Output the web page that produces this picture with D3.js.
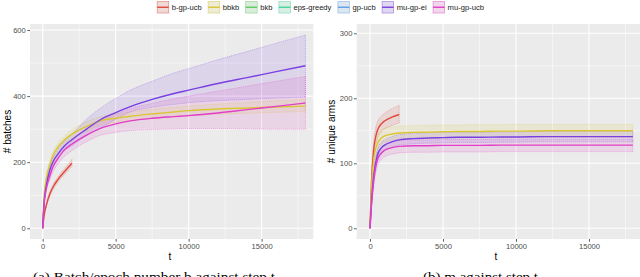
<!DOCTYPE html>
<html>
<head>
<meta charset="utf-8"/>
<title>batches and unique arms</title>
<script src="https://cdn.jsdelivr.net/npm/d3@7"></script>
<style>
html, body { margin: 0; padding: 0; background: #fff; }
svg { display: block; font-family: "Liberation Sans", Arial, sans-serif; }
</style>
</head>
<body>
<svg id="chart" width="640" height="277"></svg>
<script>

// Series in legend order.
var seriesNames = ["b-gp-ucb", "bbkb", "bkb", "eps-greedy", "gp-ucb", "mu-gp-ei", "mu-gp-ucb"];
var seriesColors = ["#e0483c", "#d9c634", "#5ccc5c", "#44d49c", "#5e9ee6", "#7a3fe2", "#e23ec8"];

// Step grids.
var tFull = [0, 100, 250, 500, 750, 1000, 1500, 2000, 3000, 4000, 5000, 6000, 7500, 9000, 10000, 12000, 14000, 16000, 18000];
var tShort = [0, 100, 250, 500, 750, 1000, 1500, 2000];

// (a) number of batches
var bgpucbBatchMean = [0, 40, 70, 105, 128, 145, 172, 197];
var bgpucbBatchLo   = [0, 37, 65, 98, 120, 137, 163, 187];
var bgpucbBatchHi   = [0, 43, 75, 112, 136, 153, 181, 208];

var bbkbBatchMean = [0, 95, 150, 195, 225, 243, 268, 285, 308, 326, 333, 339, 346, 352, 356, 361, 364, 367, 370];
var bbkbBatchLo   = [0, 88, 140, 185, 214, 232, 257, 272, 294, 313, 320, 326, 332, 338, 341, 345, 348, 351, 353];
var bbkbBatchHi   = [0, 102, 160, 205, 236, 255, 280, 298, 322, 338, 346, 352, 360, 366, 370, 376, 381, 386, 390];

var mugpeiBatchMean = [0, 80, 130, 178, 205, 222, 250, 268, 300, 330, 350, 368, 390, 408, 418, 438, 456, 474, 492];
var mugpeiBatchLo   = [0, 75, 122, 166, 192, 210, 235, 250, 280, 305, 330, 352, 366, 375, 380, 386, 390, 394, 397];
var mugpeiBatchHi   = [0, 85, 138, 188, 218, 235, 265, 285, 330, 365, 393, 418, 445, 470, 483, 510, 535, 560, 585];

var mugpucbBatchMean = [0, 75, 120, 160, 190, 208, 238, 255, 282, 303, 316, 325, 333, 338, 341, 349, 359, 369, 379];
var mugpucbBatchLo   = [0, 70, 112, 148, 175, 192, 218, 235, 262, 282, 290, 296, 299, 301, 302, 302, 301, 300, 300];
var mugpucbBatchHi   = [0, 80, 128, 170, 202, 220, 250, 268, 300, 325, 345, 362, 378, 392, 400, 415, 430, 445, 459];

// (b) number of unique arms
var bgpucbArmsMean = [0, 70, 120, 150, 160, 165, 171, 175];
var bgpucbArmsLo   = [0, 62, 108, 138, 148, 153, 158, 162];
var bgpucbArmsHi   = [0, 78, 132, 163, 172, 177, 184, 189];

var bbkbArmsMean = [0, 60, 105, 130, 138, 142, 145, 146.5, 147.5, 148, 148.5, 149, 149, 149.5, 149.5, 150, 150, 150, 150];
var bbkbArmsLo   = [0, 50, 92, 118, 128, 132, 135, 137, 138, 138.5, 139, 139, 139.5, 139.5, 140, 140, 140, 140, 140];
var bbkbArmsHi   = [0, 70, 118, 142, 150, 154, 156, 157, 158, 158.5, 159, 159, 159.5, 159.5, 160, 160, 160, 160, 160];

var mugpeiArmsMean = [0, 40, 80, 112, 123, 128, 133, 136, 138, 139, 139.5, 140, 140, 140.5, 140.5, 141, 141, 141, 141];
var mugpeiArmsLo   = [0, 34, 72, 103, 114, 120, 125, 128, 130, 131, 131.5, 132, 132, 132.5, 132.5, 133, 133, 133, 133];
var mugpeiArmsHi   = [0, 46, 88, 121, 132, 136, 141, 144, 146, 147, 147.5, 148, 148, 148.5, 148.5, 149, 149, 149, 149];

var mugpucbArmsMean = [0, 35, 72, 105, 115, 120, 124, 126, 127, 127, 127.5, 127.5, 127.5, 128, 128, 128, 128, 128, 128];
var mugpucbArmsLo   = [0, 30, 64, 95, 105, 110, 114, 116, 117, 117, 117.5, 117.5, 117.5, 118, 118, 118, 118, 118, 118];
var mugpucbArmsHi   = [0, 40, 80, 114, 124, 129, 133, 135, 136, 136, 136.5, 136.5, 136.5, 137, 137, 137, 137, 137, 137];

var xTicks = [0, 5000, 10000, 15000];
var xMinor = [2500, 7500, 12500, 17500];
var batchTicks = [0, 200, 400, 600];
var batchMinor = [100, 300, 500];
var armsTicks = [0, 100, 200, 300];
var armsMinor = [50, 150, 250];

var captionA = "(a) Batch/epoch number b against step t";
var captionB = "(b) m against step t";

// zip a series together
function rows(t, mean, lo, hi) {
    return t.map(function(v, i) { return {t: v, m: mean[i], lo: lo[i], hi: hi[i]}; });
}

var batchSeries = [
    {name: "b-gp-ucb", data: rows(tShort, bgpucbBatchMean, bgpucbBatchLo, bgpucbBatchHi)},
    {name: "bbkb", data: rows(tFull, bbkbBatchMean, bbkbBatchLo, bbkbBatchHi)},
    {name: "mu-gp-ei", data: rows(tFull, mugpeiBatchMean, mugpeiBatchLo, mugpeiBatchHi)},
    {name: "mu-gp-ucb", data: rows(tFull, mugpucbBatchMean, mugpucbBatchLo, mugpucbBatchHi)}
];
var armsSeries = [
    {name: "b-gp-ucb", data: rows(tShort, bgpucbArmsMean, bgpucbArmsLo, bgpucbArmsHi)},
    {name: "bbkb", data: rows(tFull, bbkbArmsMean, bbkbArmsLo, bbkbArmsHi)},
    {name: "mu-gp-ei", data: rows(tFull, mugpeiArmsMean, mugpeiArmsLo, mugpeiArmsHi)},
    {name: "mu-gp-ucb", data: rows(tFull, mugpucbArmsMean, mugpucbArmsLo, mugpucbArmsHi)}
];

var color = d3.scaleOrdinal().domain(seriesNames).range(seriesColors);
var svg = d3.select("#chart");

function panel(opts) {
    var x = d3.scaleLinear().domain(opts.xDomain).range(opts.xRange);
    var y = d3.scaleLinear().domain(opts.yDomain).range([239, 24]);
    var g = svg.append("g");

    g.append("rect")
        .attr("x", opts.xRange[0]).attr("y", 24)
        .attr("width", opts.xRange[1] - opts.xRange[0]).attr("height", 215)
        .attr("fill", "#ebebeb");

    // grid lines
    g.selectAll(".vminor").data(xMinor).enter().append("line")
        .attr("x1", x).attr("x2", x).attr("y1", 24).attr("y2", 239)
        .attr("stroke", "#fff").attr("stroke-width", 0.5);
    g.selectAll(".hminor").data(opts.yMinor).enter().append("line")
        .attr("y1", y).attr("y2", y).attr("x1", opts.xRange[0]).attr("x2", opts.xRange[1])
        .attr("stroke", "#fff").attr("stroke-width", 0.5);
    g.selectAll(".vmajor").data(xTicks).enter().append("line")
        .attr("x1", x).attr("x2", x).attr("y1", 24).attr("y2", 239)
        .attr("stroke", "#fff").attr("stroke-width", 1.1);
    g.selectAll(".hmajor").data(opts.yTicks).enter().append("line")
        .attr("y1", y).attr("y2", y).attr("x1", opts.xRange[0]).attr("x2", opts.xRange[1])
        .attr("stroke", "#fff").attr("stroke-width", 1.1);

    var area = d3.area().curve(d3.curveMonotoneX)
        .x(function(d) { return x(d.t); })
        .y0(function(d) { return y(d.lo); })
        .y1(function(d) { return y(d.hi); });
    var edge = function(key) {
        return d3.line().curve(d3.curveMonotoneX)
            .x(function(d) { return x(d.t); })
            .y(function(d) { return y(d[key]); });
    };

    // ribbons
    opts.series.forEach(function(s) {
        var c = color(s.name);
        g.append("path").attr("d", area(s.data))
            .attr("fill", c).attr("fill-opacity", 0.13).attr("stroke", "none");
        ["lo", "hi"].forEach(function(k) {
            g.append("path").attr("d", edge(k)(s.data))
                .attr("fill", "none").attr("stroke", c).attr("stroke-opacity", 0.55)
                .attr("stroke-width", 0.6).attr("stroke-dasharray", "1.2,0.8");
        });
        // closing edge at the end of the run
        var last = s.data[s.data.length - 1];
        g.append("line")
            .attr("x1", x(last.t)).attr("x2", x(last.t))
            .attr("y1", y(last.lo)).attr("y2", y(last.hi))
            .attr("stroke", c).attr("stroke-opacity", 0.55)
            .attr("stroke-width", 0.6).attr("stroke-dasharray", "1.2,0.8");
    });
    // mean lines
    opts.series.forEach(function(s) {
        g.append("path").attr("d", edge("m")(s.data))
            .attr("fill", "none").attr("stroke", color(s.name)).attr("stroke-width", 1.4);
    });

    // axes
    var ax = g.append("g").attr("transform", "translate(" + opts.xRange[0] + ",0)")
        .call(d3.axisLeft(y).tickValues(opts.yTicks).tickSize(2.7).tickPadding(1.5));
    var bx = g.append("g").attr("transform", "translate(0,239)")
        .call(d3.axisBottom(x).tickValues(xTicks).tickSize(2.7).tickPadding(1.5).tickFormat(d3.format("d")));
    [ax, bx].forEach(function(a) {
        a.select(".domain").remove();
        a.selectAll(".tick line").attr("stroke", "#333").attr("stroke-width", 0.8);
        a.selectAll(".tick text").attr("fill", "#4d4d4d")
            .style("font-size", "7.6px").style("font-family", "Liberation Sans, Arial, sans-serif");
    });

    g.append("text")
        .attr("x", opts.tX).attr("y", 260)
        .attr("text-anchor", "middle")
        .style("font-size", "10px").attr("fill", "#000")
        .text("t");
    g.append("text")
        .attr("transform", "translate(" + opts.yTitleX + ",131.5) rotate(-90)")
        .attr("text-anchor", "middle")
        .style("font-size", "10px").attr("fill", "#000")
        .text(opts.yTitle);

    g.append("text")
        .attr("x", opts.capX).attr("y", 280.5)
        .attr("textLength", opts.capLen).attr("lengthAdjust", "spacingAndGlyphs")
        .style("font-family", "Liberation Serif, Times New Roman, serif")
        .style("font-size", "12px").attr("fill", "#000")
        .text(opts.caption);
}

panel({
    xDomain: [-870, 18540], xRange: [30, 313.3],
    yDomain: [-32.4, 618.2], yTicks: batchTicks, yMinor: batchMinor,
    series: batchSeries, yTitle: "# batches", yTitleX: 10.5, tX: 170,
    caption: captionA, capX: 33, capLen: 242
});
panel({
    xDomain: [-911, 18911], xRange: [356.7, 646.1],
    yDomain: [-16.5, 314.3], yTicks: armsTicks, yMinor: armsMinor,
    series: armsSeries, yTitle: "# unique arms", yTitleX: 335, tX: 496,
    caption: captionB, capX: 423, capLen: 115
});

// legend across the top
var legend = svg.append("g");
var lx = 156.7;
seriesNames.forEach(function(name) {
    var c = color(name);
    var item = legend.append("g").attr("transform", "translate(" + lx + ",1)");
    item.append("rect").attr("width", 12.5).attr("height", 12.5)
        .attr("fill", "#f2f2f2");
    item.append("rect").attr("x", 0.5).attr("y", 0.5).attr("width", 11.5).attr("height", 11.5)
        .attr("fill", c).attr("fill-opacity", 0.15)
        .attr("stroke", c).attr("stroke-opacity", 0.55).attr("stroke-width", 0.7);
    item.append("line").attr("x1", 0.5).attr("x2", 12).attr("y1", 6.25).attr("y2", 6.25)
        .attr("stroke", c).attr("stroke-width", 1.4);
    var txt = item.append("text").attr("x", 15).attr("y", 9)
        .style("font-size", "7.6px").attr("fill", "#1a1a1a")
        .text(name);
    lx += 15 + txt.node().getComputedTextLength() + 6;
});

</script>
</body>
</html>
